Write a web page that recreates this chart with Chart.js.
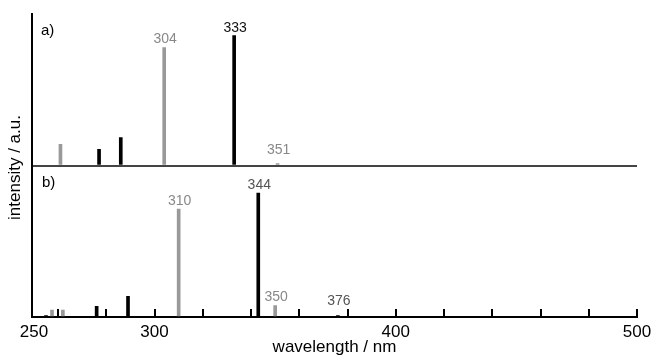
<!DOCTYPE html>
<html>
<head>
<meta charset="utf-8">
<script src="https://cdn.jsdelivr.net/npm/chart.js@4.4.1/dist/chart.umd.min.js"></script>
<style>
  html, body { margin: 0; padding: 0; background: #fff; }
  #wrap { width: 653px; height: 356px; }
</style>
</head>
<body>
<div id="wrap"><canvas id="chart"></canvas></div>
<script>
// panel a)
const aBlackNm = [277, 286, 333];
const aBlackInt = [10.6, 18.5, 85.8];
const aBlackLabels = [null, null, '333'];
const aGrayNm = [261, 304, 351];
const aGrayInt = [13.9, 77.9, 1.3];
const aGrayLabels = [null, '304', '351'];

// panel b)
const bBlackNm = [255, 276, 289, 343, 376];
const bBlackInt = [1, 7, 13.7, 81.8, 1];
const bBlackLabels = [null, null, null, '344', '376'];
const bGrayNm = [257.5, 262, 310, 350];
const bGrayInt = [4.6, 4.6, 71.3, 7.6];
const bGrayLabels = [null, null, '310', '350'];

const xTicks = [250, 260, 280, 300, 320, 340, 360, 380, 400, 420, 440, 460, 480, 500];
const xTickLabels = [250, 300, 400, 500];
const panelTags = ['a)', 'b)'];
const yTitle = 'intensity / a.u.';
const xTitle = 'wavelength / nm';

const FONT = '"Liberation Sans", Arial, sans-serif';

function pts(xs, ys) {
  return xs.map((x, i) => ({x: x, y: ys[i]}));
}

function barSet(xs, ys, labels, color, axis, labelColor) {
  return {
    data: pts(xs, ys),
    peakLabels: labels,
    labelColor: labelColor,
    backgroundColor: color,
    borderWidth: 0,
    barThickness: 3,
    grouped: false,
    yAxisID: axis
  };
}

const annot = {
  id: 'annot',
  afterDatasetsDraw(chart) {
    const ctx = chart.ctx;
    const area = chart.chartArea;
    ctx.save();
    ctx.textAlign = 'center';
    ctx.textBaseline = 'alphabetic';
    ctx.font = '14px ' + FONT;
    chart.data.datasets.forEach((ds, i) => {
      const meta = chart.getDatasetMeta(i);
      const base = chart.scales[ds.yAxisID].bottom;
      meta.data.forEach((bar, j) => {
        const t = ds.peakLabels[j];
        if (!t) return;
        ctx.fillStyle = ds.labelColor;
        const y = Math.min(bar.y - 4, base - 12);
        ctx.fillText(t, bar.x + 1, y);
      });
    });

    // panel tags
    ctx.textAlign = 'left';
    ctx.textBaseline = 'middle';
    ctx.fillStyle = '#000';
    ctx.font = '15px ' + FONT;
    ctx.fillText(panelTags[0], area.left + 9, chart.scales.ya.top + 17);
    ctx.fillText(panelTags[1], area.left + 10, chart.scales.yb.top + 17);

    // y title across both panels
    ctx.font = '17px ' + FONT;
    ctx.textAlign = 'center';
    ctx.translate(15, (area.top + area.bottom) / 2 + 2);
    ctx.rotate(-Math.PI / 2);
    ctx.fillText(yTitle, 0, 0);
    ctx.restore();
  }
};

const yAxis = (topPanel) => ({
  type: 'linear',
  position: 'left',
  stack: 'panels',
  stackWeight: 1,
  min: 0,
  max: 100,
  ticks: {display: false},
  grid: {
    drawTicks: false,
    lineWidth: 2,
    color: c => (topPanel && c.tick && c.tick.value === 0) ? '#444' : 'rgba(0,0,0,0)'
  },
  border: {display: true, color: '#000', width: 2}
});

new Chart(document.getElementById('chart'), {
  type: 'bar',
  data: {
    datasets: [
      barSet(aGrayNm, aGrayInt, aGrayLabels, '#999', 'ya', '#888'),
      barSet(aBlackNm, aBlackInt, aBlackLabels, '#000', 'ya', '#111'),
      barSet(bGrayNm, bGrayInt, bGrayLabels, '#999', 'yb', '#888'),
      barSet(bBlackNm, bBlackInt, bBlackLabels, '#000', 'yb', '#555')
    ]
  },
  options: {
    responsive: true,
    maintainAspectRatio: false,
    animation: false,
    layout: {padding: {left: 32, right: 16, top: 14, bottom: 0}},
    plugins: {legend: {display: false}, tooltip: {enabled: false}},
    scales: {
      x: {
        type: 'linear',
        min: 249.2,
        max: 500,
        offset: false,
        afterBuildTicks: s => { s.ticks = xTicks.map(v => ({value: v})); },
        // tick padding is only meant to push labels down, not sideways
        afterFit: s => { s.paddingLeft = 14; s.paddingRight = 14; },
        ticks: {
          autoSkip: false,
          maxRotation: 0,
          padding: 15,
          color: '#000',
          font: {family: FONT, size: 17, lineHeight: 1},
          callback: v => xTickLabels.includes(v) ? String(v) : ''
        },
        grid: {
          offset: false,
          drawOnChartArea: false,
          tickLength: -8,
          lineWidth: 2,
          // no separate mark at 250, the y axis sits there
          color: c => (c.tick && c.tick.value === 250) ? 'rgba(0,0,0,0)' : '#000'
        },
        border: {display: true, color: '#000', width: 2},
        title: {
          display: true,
          text: xTitle,
          color: '#000',
          font: {family: FONT, size: 17, lineHeight: 1},
          padding: {top: -17, bottom: 0}
        }
      },
      // listed bottom panel first: the stack places later scales on top
      yb: yAxis(false),
      ya: yAxis(true)
    }
  },
  plugins: [annot]
});
</script>
</body>
</html>
